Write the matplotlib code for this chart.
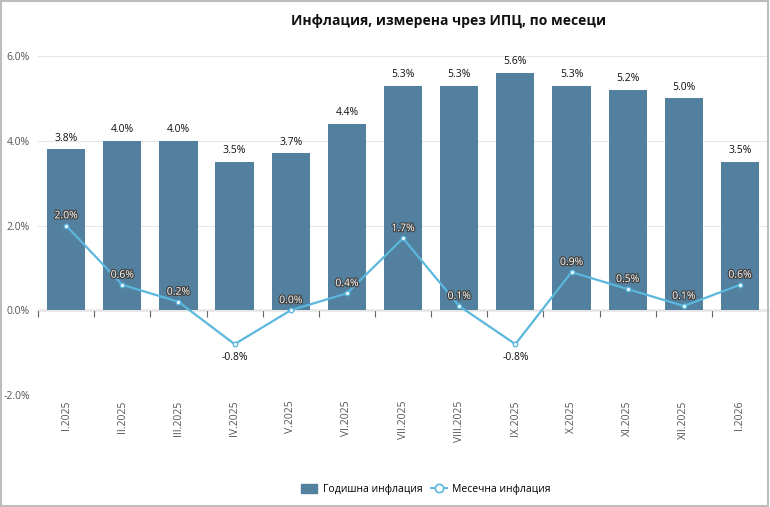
import numpy as np
import matplotlib.pyplot as plt
import matplotlib.patheffects as pe
from matplotlib.patches import Rectangle
from matplotlib.lines import Line2D
from matplotlib.patches import Patch

plt.rcParams['font.family'] = ['Open Sans', 'DejaVu Sans']

months = ["I.2025", "II.2025", "III.2025", "IV.2025", "V.2025", "VI.2025",
          "VII.2025", "VIII.2025", "IX.2025", "X.2025", "XI.2025", "XII.2025", "I.2026"]
annual = [3.8, 4.0, 4.0, 3.5, 3.7, 4.4, 5.3, 5.3, 5.6, 5.3, 5.2, 5.0, 3.5]
monthly = [2.0, 0.6, 0.2, -0.8, 0.0, 0.4, 1.7, 0.1, -0.8, 0.9, 0.5, 0.1, 0.6]
yticks = [-2, 0, 2, 4, 6]

BAR_COLOR = "#52809e"
LINE_COLOR = "#5bb7dd"

fig = plt.figure(figsize=(7.7, 5.07), dpi=100)
ax = fig.add_axes([0.0494, 0.2209, 0.9481, 0.6686])

x = np.arange(len(months))
ax.bar(x, annual, width=0.68, color=BAR_COLOR, zorder=2)
ax.plot(x, monthly, color=LINE_COLOR, lw=1.6, marker="o", ms=3.2,
        mfc="white", mec=LINE_COLOR, mew=1.0, zorder=3)

for xi, v in zip(x, annual):
    ax.annotate(f"{v:.1f}%", (xi, v), xytext=(0, 4), textcoords="offset points",
                ha="center", va="bottom", fontsize=7.5, color="#111111")

for xi, v in zip(x, monthly):
    if v < 0:
        ax.annotate(f"{v:.1f}%", (xi, v), xytext=(0, -6), textcoords="offset points",
                    ha="center", va="top", fontsize=7.5, color="#111111")
    else:
        t = ax.annotate(f"{v:.1f}%", (xi, v), xytext=(0, 3), textcoords="offset points",
                        ha="center", va="bottom", fontsize=7.5, color="white", zorder=5)
        t.set_path_effects([pe.withStroke(linewidth=1.8, foreground="#444444")])

ax.set_xlim(-0.5, len(months) - 0.5)
ax.set_ylim(-2, 6)
ax.set_yticks(yticks)
ax.set_yticklabels([f"{v:.1f}%" for v in yticks])
ax.tick_params(axis="y", length=0, labelsize=7.5, labelcolor="#555555", pad=6)
ax.grid(axis="y", color="#e6e6e6", lw=0.8, zorder=0)
ax.set_axisbelow(True)
for s in ax.spines.values():
    s.set_visible(False)

ax.set_xticks(x)
ax.set_xticklabels(months, rotation=90, fontsize=7.5, color="#555555", va="top")
ax.tick_params(axis="x", length=0, pad=4)

# zero line with category ticks
sec = ax.secondary_xaxis(0.25)
sec.set_xticks(np.arange(len(months) + 1) - 0.5)
sec.set_xticklabels([])
sec.tick_params(axis="x", length=5, color="#666666", width=0.8)
sec.spines["bottom"].set_color("#666666")
sec.spines["bottom"].set_linewidth(0.9)

fig.text(0.583, 0.958, "Инфлация, измерена чрез ИПЦ, по месеци", ha="center",
         va="center", fontsize=10, fontweight="bold", color="#111111")

handles = [Patch(facecolor=BAR_COLOR, edgecolor=BAR_COLOR),
           Line2D([], [], color=LINE_COLOR, lw=1.4, marker="o", ms=6,
                  mfc="white", mec=LINE_COLOR, mew=1.2)]
fig.legend(handles, ["Годишна инфлация", "Месечна инфлация"], loc="center",
           bbox_to_anchor=(0.553, 0.035), ncol=2, frameon=False, fontsize=7.5,
           handlelength=1.6, handleheight=1.0, handletextpad=0.5, columnspacing=0.8)

fig.add_artist(Rectangle((0.001, 0.001), 0.997, 0.997, transform=fig.transFigure,
                         fill=False, edgecolor="#bdbdbd", lw=1.5))

fig.savefig("out.png", dpi=100)
